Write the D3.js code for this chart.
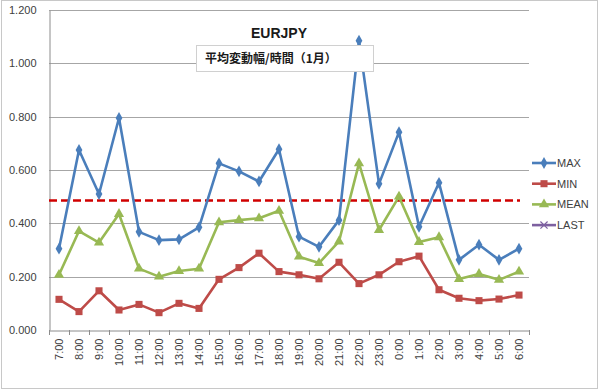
<!DOCTYPE html>
<html>
<head>
<meta charset="utf-8">
<script src="https://cdn.jsdelivr.net/npm/d3@7"></script>
<style>
  body { margin: 0; background: #fff; }
  text { font-family: "Liberation Sans", Arial, sans-serif; }
</style>
</head>
<body>
<script>
// Data
var hours = ["7:00","8:00","9:00","10:00","11:00","12:00","13:00","14:00","15:00","16:00","17:00","18:00",
             "19:00","20:00","21:00","22:00","23:00","0:00","1:00","2:00","3:00","4:00","5:00","6:00"];
var maxVals  = [0.305,0.675,0.510,0.795,0.368,0.337,0.340,0.385,0.625,0.595,0.557,0.678,
                0.350,0.312,0.412,1.085,0.548,0.742,0.387,0.552,0.263,0.320,0.263,0.305];
var minVals  = [0.115,0.069,0.147,0.075,0.096,0.065,0.100,0.081,0.190,0.234,0.288,0.219,
                0.207,0.192,0.254,0.174,0.207,0.256,0.277,0.151,0.119,0.110,0.116,0.131];
var meanVals = [0.207,0.371,0.328,0.435,0.230,0.200,0.221,0.230,0.404,0.412,0.419,0.447,
                0.275,0.251,0.332,0.625,0.375,0.500,0.330,0.348,0.191,0.210,0.188,0.219];
var avgLine = 0.486;
var yTicks = [0, 0.2, 0.4, 0.6, 0.8, 1.0, 1.2];

var width = 600, height = 392;
var margin = { left: 49, right: 71, top: 10, bottom: 62 };

var svg = d3.select("body").append("svg")
  .attr("width", width)
  .attr("height", height);

// chart frame
svg.append("rect")
  .attr("x", 1.5).attr("y", 0.5)
  .attr("width", 596).attr("height", 388)
  .attr("fill", "#fff")
  .attr("stroke", "#c8c8c8");

var x = d3.scaleBand()
  .domain(hours)
  .range([margin.left, width - margin.right]);

var y = d3.scaleLinear()
  .domain([0, 1.2])
  .range([height - margin.bottom, margin.top]);

// gridlines
svg.append("g")
  .selectAll("line")
  .data(yTicks.slice(1))
  .enter().append("line")
  .attr("x1", margin.left).attr("x2", width - margin.right)
  .attr("y1", function(d) { return Math.round(y(d)) + 0.5; })
  .attr("y2", function(d) { return Math.round(y(d)) + 0.5; })
  .attr("stroke", "#a6a6a6")
  .attr("stroke-width", 1);

// y axis
var yAxis = d3.axisLeft(y)
  .tickValues(yTicks)
  .tickFormat(d3.format(".3f"))
  .tickSize(0)
  .tickPadding(13);

var gy = svg.append("g")
  .attr("transform", "translate(" + (margin.left + 0.5) + ",0)")
  .call(yAxis);
gy.select(".domain").attr("stroke", "#8c8c8c");
gy.selectAll("text").attr("font-size", 11).attr("fill", "#404040");

// x axis
var xAxis = d3.axisBottom(x).tickSize(0).tickPadding(0);
var gx = svg.append("g")
  .attr("transform", "translate(0," + (y(0) + 0.5) + ")")
  .call(xAxis);
gx.select(".domain").attr("stroke", "#8c8c8c");
gx.selectAll("text")
  .attr("font-size", 11)
  .attr("fill", "#404040")
  .attr("text-anchor", "end")
  .attr("transform", "rotate(-90)")
  .attr("x", -8)
  .attr("y", 0)
  .attr("dy", "0.35em");

// tick marks between categories
svg.append("g")
  .selectAll("line")
  .data(d3.range(hours.length + 1))
  .enter().append("line")
  .attr("x1", function(i) { return Math.round(margin.left + i * x.step()) + 0.5; })
  .attr("x2", function(i) { return Math.round(margin.left + i * x.step()) + 0.5; })
  .attr("y1", y(0))
  .attr("y2", y(0) + 5)
  .attr("stroke", "#8c8c8c");

// average dashed line
svg.append("line")
  .attr("x1", margin.left).attr("x2", width - margin.right - 9)
  .attr("y1", y(avgLine)).attr("y2", y(avgLine))
  .attr("stroke", "#d00000")
  .attr("stroke-width", 2.5)
  .attr("stroke-dasharray", "8,4");

var cx = function(d, i) { return x(hours[i]) + x.bandwidth() / 2; };

var series = [
  { name: "MAX",  values: maxVals,  color: "#4a7ebb", marker: "diamond" },
  { name: "MIN",  values: minVals,  color: "#be4b48", marker: "square" },
  { name: "MEAN", values: meanVals, color: "#98b954", marker: "triangle" }
];

var line = d3.line()
  .x(cx)
  .y(function(d) { return y(d); });

var symbols = {
  diamond: d3.symbol().type(d3.symbolDiamond).size(40),
  square: d3.symbol().type(d3.symbolSquare).size(50),
  triangle: d3.symbol().type(d3.symbolTriangle).size(45)
};

series.forEach(function(s) {
  svg.append("path")
    .datum(s.values)
    .attr("fill", "none")
    .attr("stroke", s.color)
    .attr("stroke-width", 2.6)
    .attr("stroke-linejoin", "round")
    .attr("d", line);

  svg.append("g")
    .selectAll("path")
    .data(s.values)
    .enter().append("path")
    .attr("d", symbols[s.marker])
    .attr("transform", function(d, i) { return "translate(" + cx(d, i) + "," + y(d) + ")"; })
    .attr("fill", s.color);
});

// title
svg.append("text")
  .attr("x", 279).attr("y", 38)
  .attr("text-anchor", "middle")
  .attr("font-size", 14)
  .attr("font-weight", "bold")
  .attr("fill", "#1a1a1a")
  .text("EURJPY");

svg.append("rect")
  .attr("x", 196.5).attr("y", 45.5)
  .attr("width", 177).attr("height", 26)
  .attr("fill", "#fff")
  .attr("stroke", "#d0d0d0");

svg.append("text")
  .attr("x", 205).attr("y", 63)
  .attr("font-size", 12)
  .attr("font-weight", "bold")
  .attr("fill", "#1a1a1a")
  .style("font-family", "'Noto Sans CJK JP', sans-serif")
  .text("平均変動幅/時間（1月）");

// legend
var legendItems = series.concat([{ name: "LAST", color: "#7d60a0", marker: "x" }]);
var legend = svg.append("g")
  .selectAll("g")
  .data(legendItems)
  .enter().append("g")
  .attr("transform", function(d, i) { return "translate(532," + (163 + i * 20.7) + ")"; });

legend.append("line")
  .attr("x1", 0).attr("x2", 24)
  .attr("stroke", function(d) { return d.color; })
  .attr("stroke-width", 2.6);

legend.each(function(d) {
  var g = d3.select(this);
  if (d.marker === "x") {
    g.append("path")
      .attr("d", d3.symbol().type(d3.symbolX).size(35)())
      .attr("transform", "translate(12,0)")
      .attr("stroke", d.color)
      .attr("stroke-width", 1.2)
      .attr("fill", "none");
  } else {
    g.append("path")
      .attr("d", symbols[d.marker]())
      .attr("transform", "translate(12,0)")
      .attr("fill", d.color);
  }
});

legend.append("text")
  .attr("x", 25).attr("y", 0)
  .attr("dy", "0.35em")
  .attr("font-size", 11)
  .attr("fill", "#404040")
  .text(function(d) { return d.name; });
</script>
</body>
</html>
